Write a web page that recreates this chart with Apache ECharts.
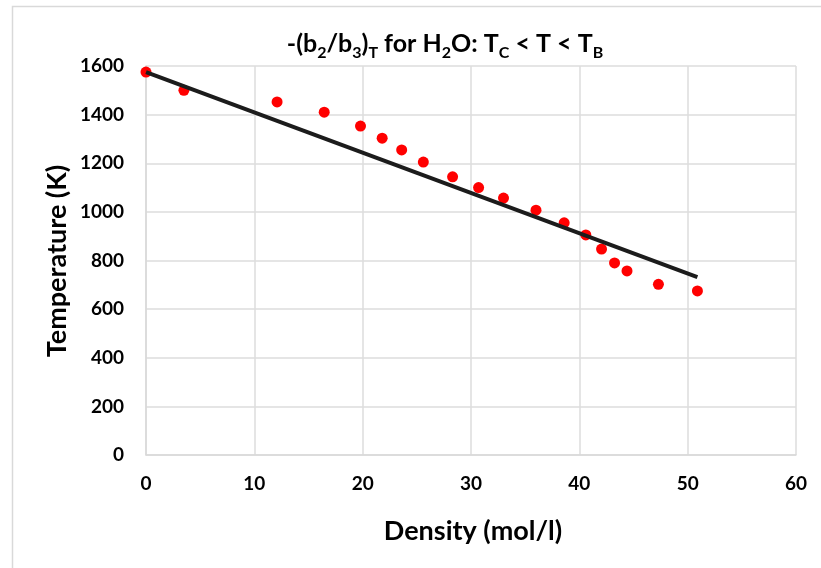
<!DOCTYPE html>
<html>
<head>
<meta charset="utf-8">
<script src="https://cdn.jsdelivr.net/npm/echarts@6/dist/echarts.min.js"></script>
<style>html,body{margin:0;padding:0;background:#fff;}#c{width:821px;height:568px;}</style>
</head>
<body>
<div id="c"></div>
<script>
const density = [0, 3.5, 12.1, 16.45, 19.8, 21.8, 23.6, 25.6, 28.3, 30.7, 33.0, 36.0, 38.6, 40.6, 42.05, 43.25, 44.4, 47.3, 50.9];
const temperature = [1575, 1500, 1452, 1410, 1353, 1303, 1255, 1205, 1144, 1100, 1057, 1007, 955, 905, 847, 790, 757, 702, 675];
const trendX = [0, 50.9];
const trendY = [1575, 732];
const xTicks = [0, 10, 20, 30, 40, 50, 60];
const yTicks = [0, 200, 400, 600, 800, 1000, 1200, 1400, 1600];

const FONT = 'Lato, "Open Sans", sans-serif';
const chart = echarts.init(document.getElementById('c'), null, {renderer: 'canvas'});
const main = {fontSize: 25, fontWeight: 'bold', fontFamily: FONT, color: '#000', lineHeight: 28, verticalAlign: 'top'};
const sub = {fontSize: 16, fontWeight: 'bold', fontFamily: FONT, color: '#000', padding: [14, 0, 0, 0], verticalAlign: 'top'};

chart.setOption({
  animation: false,
  backgroundColor: '#fff',
  grid: {left: 146, right: 25, top: 66, bottom: 113, containLabel: false},
  xAxis: {
    type: 'value', min: xTicks[0], max: xTicks[xTicks.length - 1], interval: 10,
    axisLine: {show: true, lineStyle: {color: '#d9d9d9', width: 1.5}},
    axisTick: {show: false},
    splitLine: {show: true, lineStyle: {color: '#dddddd', width: 1.5}},
    axisLabel: {margin: 19, fontSize: 19, fontWeight: 'bold', fontFamily: FONT, color: '#000',
      formatter: v => String(v)}
  },
  yAxis: {
    type: 'value', min: yTicks[0], max: yTicks[yTicks.length - 1], interval: 200,
    axisLine: {show: true, lineStyle: {color: '#d9d9d9', width: 1.5}},
    axisTick: {show: false},
    splitLine: {show: true, lineStyle: {color: '#dddddd', width: 1.5}},
    axisLabel: {margin: 22, fontSize: 19, fontWeight: 'bold', fontFamily: FONT, color: '#000',
      formatter: v => String(v)}
  },
  graphic: [
    {type: 'rect', shape: {x: 12.5, y: 6.5, width: 900, height: 700}, style: {fill: 'none', stroke: '#d9d9d9', lineWidth: 1.5}, silent: true, z: -10},
    {type: 'text', x: 445, y: 46, style: {
      text: '{m|-(b}{s|2}{m|/b}{s|3}{m|)}{s|T}{m| for H}{s|2}{m|O: T}{s|C}{m| < T < T}{s|B}',
      align: 'center', verticalAlign: 'middle', rich: {m: main, s: sub}}},
    {type: 'text', x: 57, y: 261, rotation: Math.PI / 2, style: {
      text: 'Temperature (K)', align: 'center', verticalAlign: 'middle',
      fontSize: 27, fontWeight: 'bold', fontFamily: FONT, fill: '#000'}},
    {type: 'text', x: 473, y: 531, style: {
      text: 'Density (mol/l)', align: 'center', verticalAlign: 'middle',
      fontSize: 27, fontWeight: 'bold', fontFamily: FONT, fill: '#000'}}
  ],
  series: [
    {type: 'scatter', data: density.map((d, i) => [d, temperature[i]]), symbol: 'circle', symbolSize: 11,
      itemStyle: {color: '#ff0000', opacity: 1}, z: 2},
    {type: 'line', data: trendX.map((d, i) => [d, trendY[i]]), symbol: 'none',
      lineStyle: {color: '#1c1c1c', width: 4}, z: 3}
  ]
});
</script>
</body>
</html>
